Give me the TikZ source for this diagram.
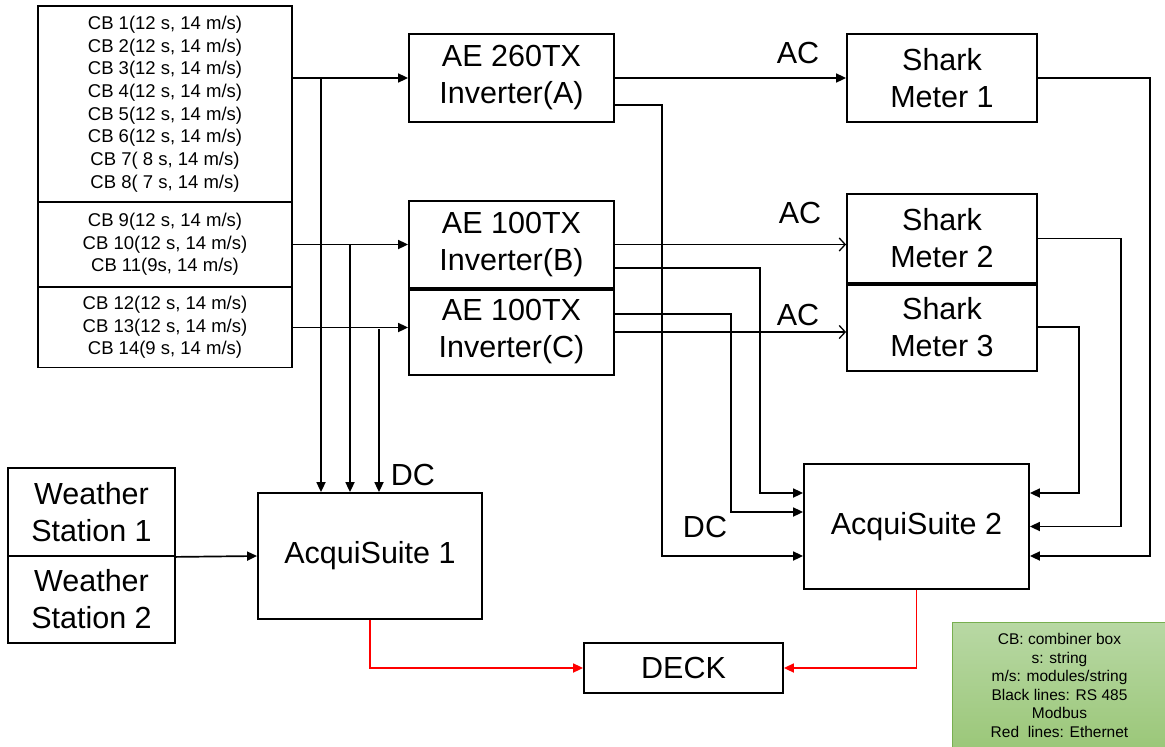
\documentclass[tikz,border=0pt]{standalone}
\usepackage{fontspec}
\setmainfont{Liberation Sans}
\usetikzlibrary{arrows.meta,calc}
\definecolor{legtop}{RGB}{184,216,164}
\definecolor{legbot}{RGB}{155,199,121}
\definecolor{legline}{RGB}{120,175,80}
\begin{document}
\begin{tikzpicture}[x=1pt,y=-1pt,
  box/.style={draw,line width=1.8pt,inner sep=0pt,align=center},
  bigtxt/.style={font=\fontsize{30.5}{37}\selectfont},
  cbtxt/.style={font=\fontsize{18.5}{22.7}\selectfont},
  lbl/.style={font=\fontsize{30.5}{37}\selectfont,inner sep=0pt},
  conn/.style={line width=1.7pt},
  arr/.style={conn,-{Triangle[length=10pt,width=9pt]}},
  openarr/.style={line width=1.3pt,-{Straight Barb[length=6pt,width=13pt,line width=1.3pt]}},
  redarr/.style={line width=1.7pt,draw=red,-{Triangle[length=10pt,width=9pt,fill=red]}},
  divider/.style={line width=3.2pt}
]
\useasboundingbox (0,0) rectangle (1165,747);

% combiner boxes
\node[box,cbtxt,minimum width=254,minimum height=196] (cb1) at (165,104)
 {CB 1(12 s, 14 m/s)\\CB 2(12 s, 14 m/s)\\CB 3(12 s, 14 m/s)\\CB 4(12 s, 14 m/s)\\CB 5(12 s, 14 m/s)\\CB 6(12 s, 14 m/s)\\CB 7( 8 s, 14 m/s)\\CB 8( 7 s, 14 m/s)};
\node[box,cbtxt,minimum width=254,minimum height=85] (cb2) at (165,244.5)
 {CB 9(12 s, 14 m/s)\\CB 10(12 s, 14 m/s)\\CB 11(9s, 14 m/s)};
\node[box,cbtxt,minimum width=254,minimum height=80] (cb3) at (165,327.5)
 {CB 12(12 s, 14 m/s)\\CB 13(12 s, 14 m/s)\\CB 14(9 s, 14 m/s)};

% inverters
\node[box,bigtxt,minimum width=205,minimum height=88] (invA) at (511.5,78) {AE 260TX\\Inverter(A)};
\node[box,bigtxt,minimum width=205,minimum height=87] (invB) at (511.5,244.5) {AE 100TX\\Inverter(B)};
\node[box,bigtxt,minimum width=205,minimum height=86] (invC) at (511.5,332) {AE 100TX\\Inverter(C)};
\draw[divider] (invB.south west) -- (invB.south east);

% shark meters
\node[box,bigtxt,minimum width=190,minimum height=88] (sh1) at (942,78) {Shark\\Meter 1};
\node[box,bigtxt,minimum width=190,minimum height=89] (sh2) at (942,238.5) {Shark\\Meter 2};
\node[box,bigtxt,minimum width=190,minimum height=88] (sh3) at (942,327) {Shark\\Meter 3};
\draw[divider] (sh2.south west) -- (sh2.south east);

% weather stations
\node[box,bigtxt,minimum width=167,minimum height=88] (ws1) at (91.5,512) {Weather\\Station 1};
\node[box,bigtxt,minimum width=167,minimum height=87] (ws2) at (91.5,599.5) {Weather\\Station 2};

% acquisuites and deck
\node[box,bigtxt,minimum width=224,minimum height=126] (as1) at (370,556) {AcquiSuite 1};
\node[box,bigtxt,minimum width=225,minimum height=125] (as2) at (916.5,526.5) {AcquiSuite 2};
\node[box,bigtxt,minimum width=199,minimum height=50] (deck) at (683.5,668) {DECK};

% legend
\node[draw=legline,line width=1pt,top color=legtop,bottom color=legbot,anchor=north west,
  minimum width=214,minimum height=126,inner sep=0pt,align=center,
  font=\fontsize{15.5}{18.6}\selectfont] (leg) at (952,622)
 {CB: combiner box\\s: string\\m/s: modules/string\\Black lines: RS 485\\Modbus\\Red\ \ lines: Ethernet};

% labels
\node[lbl] (dc1) at (413,475) {DC};
\node[lbl] (dc2) at (705,527) {DC};
\node[lbl] (ac1) at (798,53) {AC};
\node[lbl] (ac2) at (800,213) {AC};
\node[lbl] (ac3) at (798,315) {AC};

% combiner boxes to inverters
\draw[arr] (cb1.east |- invA.west) -- (invA.west);
\draw[arr] (cb2.east) -- (cb2.east -| invB.west);
\draw[arr] (cb3.east) -- (cb3.east -| invC.west);
\coordinate (j1) at (321,78);
\coordinate (j2) at (350,244.5);
\coordinate (j3) at (379,329);
\draw[arr] (j1) -- (j1 |- as1.north);
\draw[arr] (j2) -- (j2 |- as1.north);
\draw[arr] (j3) -- (j3 |- as1.north);

% weather to acquisuite 1
\draw[arr] (ws1.south east) -- (as1.west);

% inverters to shark meters
\draw[arr] (invA.east) -- (sh1.west);
\draw[openarr] (invB.east) -- (invB.east -| sh2.west);
\draw[openarr] (invC.east) -- (invC.east -| sh3.west);

% inverters to acquisuite 2
\draw[arr] ([yshift=-27pt]invA.east) -| (662,556) -- (as2.west |- 0,556);
\draw[arr] ([yshift=-23.5pt]invB.east) -| (760,493) -- (as2.west |- 0,493);
\draw[arr] ([yshift=18pt]invC.east) -| (731,512) -- (as2.west |- 0,512);

% shark meters to acquisuite 2
\draw[arr] (sh3.east) -| (1079,493) -- (as2.east |- 0,493);
\draw[arr] (sh2.east) -| (1121,526.5) -- (as2.east);
\draw[arr] (sh1.east) -| (1150,556) -- (as2.east |- 0,556);

% ethernet
\draw[redarr] (as1.south) |- (deck.west);
\draw[redarr] (as2.south) |- (deck.east);
\end{tikzpicture}
\end{document}
